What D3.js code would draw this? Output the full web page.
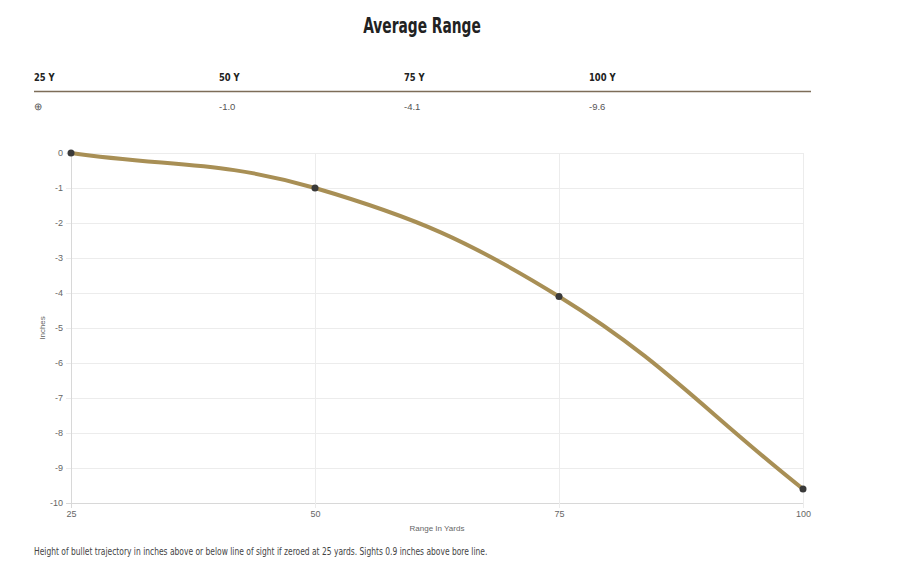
<!DOCTYPE html>
<html>
<head>
<meta charset="utf-8">
<script src="https://cdn.jsdelivr.net/npm/d3@7"></script>
<style>
  body { margin: 0; background: #fff; }
  .cond { font-family: "Liberation Sans Narrow", "DejaVu Sans Condensed", "DejaVu Sans", sans-serif; }
  .tick text { font-family: "Liberation Sans", Arial, sans-serif; font-size: 9px; fill: #666; }
</style>
</head>
<body>
<div id="chart"></div>
<script>
var ranges = [25, 50, 75, 100];
var rangeLabels = ['25 Y', '50 Y', '75 Y', '100 Y'];
var drops = [0, -1.0, -4.1, -9.6];
var dropLabels = ['\u2295', '-1.0', '-4.1', '-9.6'];
var yTicks = [0, -1, -2, -3, -4, -5, -6, -7, -8, -9, -10];

var width = 900;
var height = 584;
var plot = { left: 71, right: 803, top: 153, bottom: 503 };
var lineColor = '#a88f55';
var tension = 0.4;

var svg = d3
	.select('#chart')
	.append('svg')
	.attr('width', width)
	.attr('height', height);

// squeeze text horizontally, no condensed font installed
function narrow(sel, x, y, k) {
	return sel.attr('transform', `translate(${x}, ${y}) scale(${k}, 1)`);
}

// spline like the chart.js default (tension 0.4)
function curveSpline(context) {
	var pts;
	return {
		areaStart: function() {},
		areaEnd: function() {},
		lineStart: function() { pts = []; },
		point: function(x, y) { pts.push([x, y]); },
		lineEnd: function() {
			var n = pts.length;
			var cps = pts.map(function(cur, i) {
				var prev = pts[Math.max(i - 1, 0)];
				var next = pts[Math.min(i + 1, n - 1)];
				var d01 = Math.hypot(cur[0] - prev[0], cur[1] - prev[1]);
				var d12 = Math.hypot(next[0] - cur[0], next[1] - cur[1]);
				var s01 = d01 / (d01 + d12) || 0;
				var s12 = d12 / (d01 + d12) || 0;
				var fa = tension * s01;
				var fb = tension * s12;
				return {
					before: [cur[0] - fa * (next[0] - prev[0]), cur[1] - fa * (next[1] - prev[1])],
					after: [cur[0] + fb * (next[0] - prev[0]), cur[1] + fb * (next[1] - prev[1])]
				};
			});
			context.moveTo(pts[0][0], pts[0][1]);
			for (var i = 1; i < n; i++) {
				context.bezierCurveTo(
					cps[i - 1].after[0], cps[i - 1].after[1],
					cps[i].before[0], cps[i].before[1],
					pts[i][0], pts[i][1]
				);
			}
		}
	};
}

/* Title */
svg
	.append('text')
	.attr('class', 'cond')
	.call(narrow, 422, 33, 0.73)
	.attr('text-anchor', 'middle')
	.style('font-size', '21px')
	.style('font-weight', 'bold')
	.style('fill', '#222')
	.text('Average Range');

/* Table above the chart */
var colX = d3.scalePoint().domain(rangeLabels).range([34, 589]);

svg
	.selectAll('.head')
	.data(rangeLabels)
	.enter()
	.append('text')
	.attr('class', 'head cond')
	.each(function(d) {
		narrow(d3.select(this), colX(d), 81, 0.85);
	})
	.style('font-size', '11px')
	.style('font-weight', 'bold')
	.style('fill', '#222')
	.text(d => d);

svg
	.append('line')
	.attr('x1', 34)
	.attr('x2', 811)
	.attr('y1', 91.5)
	.attr('y2', 91.5)
	.style('stroke', '#7d6d58')
	.style('stroke-width', 1.5);

svg
	.selectAll('.val')
	.data(dropLabels)
	.enter()
	.append('text')
	.attr('class', 'val')
	.attr('x', (d, i) => colX(rangeLabels[i]))
	.attr('y', 110)
	.style('font-family', '"Liberation Sans", Arial, sans-serif')
	.style('font-size', '9.5px')
	.style('fill', '#555')
	.text(d => d);

/* Scales */
var xScale = d3.scaleLinear().domain([25, 100]).range([plot.left, plot.right]);
var yScale = d3.scaleLinear().domain([-10, 0]).range([plot.bottom, plot.top]);

/* Grid */
var grid = svg.append('g').attr('class', 'grid');
grid
	.selectAll('.hgrid')
	.data(yTicks)
	.enter()
	.append('line')
	.attr('x1', plot.left - 5)
	.attr('x2', plot.right)
	.attr('y1', d => yScale(d) + 0.5)
	.attr('y2', d => yScale(d) + 0.5)
	.style('stroke', d => (d === -10 ? '#d8d8d8' : '#ececec'))
	.style('stroke-width', 1);

grid
	.selectAll('.vgrid')
	.data(ranges)
	.enter()
	.append('line')
	.attr('x1', d => xScale(d) + 0.5)
	.attr('x2', d => xScale(d) + 0.5)
	.attr('y1', plot.top)
	.attr('y2', plot.bottom + 5)
	.style('stroke', d => (d === 25 ? '#d8d8d8' : '#ececec'))
	.style('stroke-width', 1);

/* Axes */
var xAxis = d3.axisBottom(xScale).tickValues(ranges).tickSize(0).tickPadding(8);
var yAxis = d3
	.axisLeft(yScale)
	.tickValues(yTicks)
	.tickFormat(d => String(d))
	.tickSize(0)
	.tickPadding(8);

svg
	.append('g')
	.attr('transform', `translate(0, ${plot.bottom})`)
	.call(xAxis)
	.call(g => g.select('.domain').remove());

svg
	.append('g')
	.attr('transform', `translate(${plot.left}, 0)`)
	.call(yAxis)
	.call(g => g.select('.domain').remove());

svg
	.append('text')
	.attr('x', 437)
	.attr('y', 531)
	.attr('text-anchor', 'middle')
	.style('font-family', '"Liberation Sans", Arial, sans-serif')
	.style('font-size', '8px')
	.style('fill', '#666')
	.text('Range In Yards');

svg
	.append('text')
	.attr('transform', `translate(45, ${(plot.top + plot.bottom) / 2}) rotate(-90)`)
	.attr('text-anchor', 'middle')
	.style('font-family', '"Liberation Sans", Arial, sans-serif')
	.style('font-size', '8px')
	.style('fill', '#666')
	.text('Inches');

/* Line */
var points = ranges.map((r, i) => ({ range: r, drop: drops[i] }));

var line = d3
	.line()
	.x(d => xScale(d.range))
	.y(d => yScale(d.drop))
	.curve(curveSpline);

svg
	.append('path')
	.attr('d', line(points))
	.style('fill', 'none')
	.style('stroke', lineColor)
	.style('stroke-width', 4);

svg
	.selectAll('.dot')
	.data(points)
	.enter()
	.append('circle')
	.attr('cx', d => xScale(d.range))
	.attr('cy', d => yScale(d.drop))
	.attr('r', 3.5)
	.style('fill', '#3a3a3a');

/* Footnote */
svg
	.append('text')
	.attr('class', 'cond')
	.call(narrow, 34, 555, 0.84)
	.style('font-size', '10px')
	.style('fill', '#444')
	.text('Height of bullet trajectory in inches above or below line of sight if zeroed at 25 yards. Sights 0.9 inches above bore line.');
</script>
</body>
</html>
